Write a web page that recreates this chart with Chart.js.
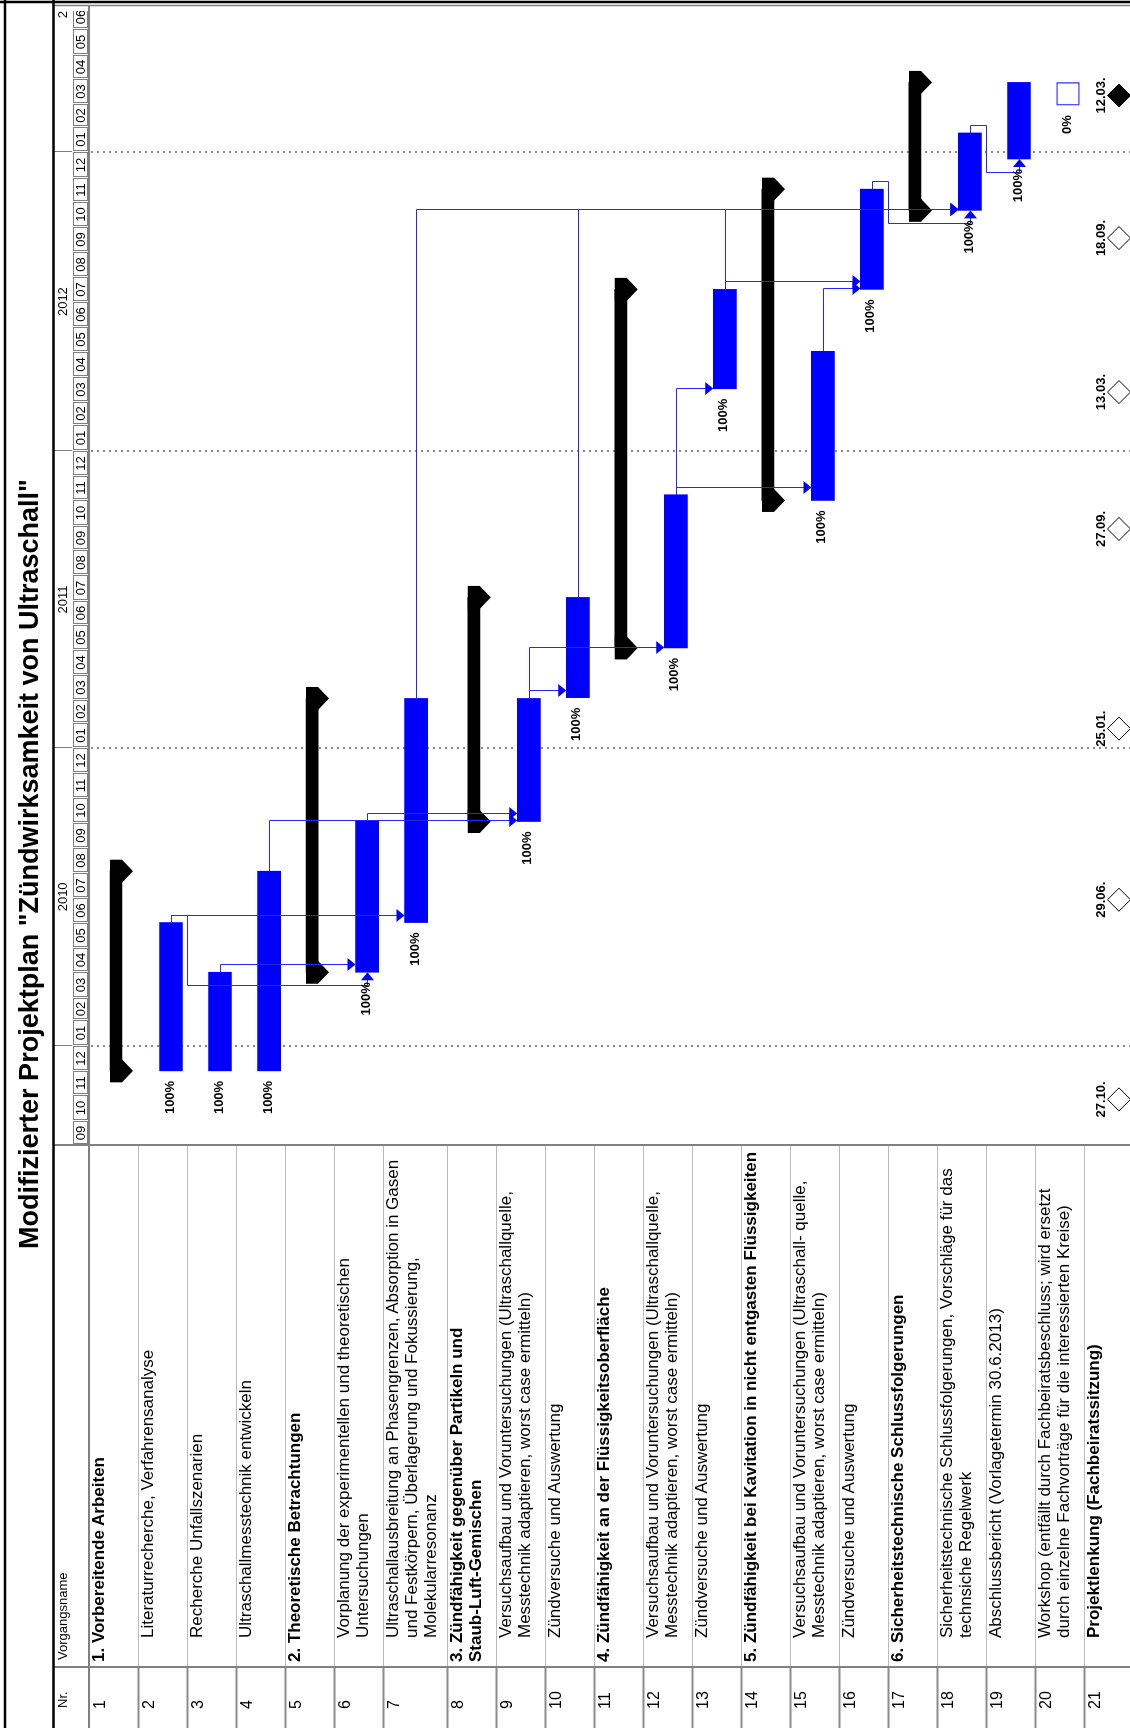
<!DOCTYPE html>
<html>
<head>
<meta charset="utf-8">
<title>Modifizierter Projektplan</title>
<script src="https://cdn.jsdelivr.net/npm/chart.js@4.4.1/dist/chart.umd.min.js"></script>
<style>
html, body { margin:0; padding:0; background:#fff; overflow:hidden; }
body { width:1130px; height:1728px; position:relative; }
#page { position:absolute; left:0; top:0; width:1728px; height:1133px;
  transform-origin:0 0; transform:translate(0px,1728px) rotate(-90deg);
  font-family:"Liberation Sans", Arial, sans-serif; color:#000; }
#gantt { position:absolute; left:0; top:0; }
#title { position:absolute; left:0; top:5px; width:1728px; height:48px; line-height:48px;
  text-align:center; font-weight:bold; font-size:27px; }
.head { position:absolute; font-size:13px; line-height:15px; white-space:pre; }
.num { position:absolute; font-size:16px; line-height:19px; white-space:pre; }
.name { position:absolute; font-size:17px; line-height:19px; white-space:pre; }
.bold { font-weight:bold; }
</style>
</head>
<body>
<div id="page">
  <canvas id="gantt" width="1728" height="1133"></canvas>
  <div id="title">Modifizierter Projektplan "Zündwirksamkeit von Ultraschall"</div>
  <div id="table"></div>
</div>
<script>
// Vorgaenge
var taskNames = [
  '1. Vorbereitende Arbeiten',
  'Literaturrecherche, Verfahrensanalyse',
  'Recherche Unfallszenarien',
  'Ultraschallmesstechnik entwickeln',
  '2. Theoretische Betrachtungen',
  'Vorplanung der experimentellen und theoretischen\nUntersuchungen',
  'Ultraschallausbreitung an Phasengrenzen, Absorption in Gasen\nund Festkörpern, Überlagerung und Fokussierung,\nMolekularresonanz',
  '3. Zündfähigkeit gegenüber Partikeln und\nStaub-Luft-Gemischen',
  'Versuchsaufbau und Voruntersuchungen (Ultraschallquelle,\nMesstechnik adaptieren, worst case ermitteln)',
  'Zündversuche und Auswertung',
  '4. Zündfähigkeit an der Flüssigkeitsoberfläche',
  'Versuchsaufbau und Voruntersuchungen (Ultraschallquelle,\nMesstechnik adaptieren, worst case ermitteln)',
  'Zündversuche und Auswertung',
  '5. Zündfähigkeit bei Kavitation in nicht entgasten Flüssigkeiten',
  'Versuchsaufbau und Voruntersuchungen (Ultraschall- quelle,\nMesstechnik adaptieren, worst case ermitteln)',
  'Zündversuche und Auswertung',
  '6. Sicherheitstechnische Schlussfolgerungen',
  'Sicherheitstechnische Schlussfolgerungen, Vorschläge für das\ntechnsiche Regelwerk',
  'Abschlussbericht (Vorlagetermin 30.6.2013)',
  'Workshop (entfällt durch Fachbeiratsbeschluss; wird ersetzt\ndurch einzelne Fachvorträge für die interessierten Kreise)',
  'Projektlenkung (Fachbeiratssitzung)'
];
var rowKind = ['summary','task','task','task','summary','task','task','summary','task','task',
  'summary','task','task','summary','task','task','summary','task','task','task','milestones'];

var startDates = ['2009-12-01','2009-12-01','2009-12-01','2009-12-01','2010-04-01','2010-04-01','2010-06-01',
  '2010-10-03','2010-10-03','2011-03-04','2011-05-04','2011-05-04','2012-03-17','2011-11-01','2011-11-01',
  '2012-07-17','2012-10-22','2012-10-22','2012-12-24','2013-02-28',null];
var endDates = ['2010-08-03','2010-06-01','2010-04-01','2010-08-03','2011-03-03','2010-10-04','2011-03-03',
  '2011-07-05','2011-03-03','2011-07-05','2012-07-17','2011-11-08','2012-07-17','2012-11-17','2012-05-02',
  '2012-11-17','2013-03-28','2013-01-25','2013-03-28','2013-03-28',null];
var pctDone = [null,100,100,100,null,100,100,null,100,100,null,100,100,null,100,100,null,100,100,0,null];

// Fachbeiratssitzungen (Zeile 21)
var milestoneDates = ['2009-10-27','2010-06-29','2011-01-25','2011-09-27','2012-03-13','2012-09-18','2013-03-12'];
var milestoneLabels = ['27.10.','29.06.','25.01.','27.09.','13.03.','18.09.','12.03.'];
var milestoneFilled = [false,false,false,false,false,false,true];

// Anordnungsbeziehungen (Nr. Vorgaenger -> Nr. Nachfolger)
var linkFrom = [2,2,3,4,6,7,9,9,10,12,12,13,13,15,16,18];
var linkTo   = [7,6,6,9,9,18,10,12,18,13,15,16,18,16,18,19];

// Zeitskala
var years = ['2009','2010','2011','2012','2013'];
var monthNames = ['01','02','03','04','05','06','07','08','09','10','11','12'];
var axisStart = '2009-09-01';
var axisStop = '2013-07-01';

var FONT = '"Liberation Sans", Arial, sans-serif';
var BLUE = '#0000ff';
var LINK = '#2626ff';

function toDays(d) {
  var t = (typeof d === 'string') ? Date.parse(d) : d.getTime();
  return (t - Date.parse(axisStart)) / 864e5;
}

// row slots, the three-line row is taller
var rowTop = [], rowSpan = [];
var acc = 0;
for (var i = 0; i < taskNames.length; i++) {
  rowTop.push(acc);
  var span = taskNames[i].split('\n').length > 2 ? 1.3 : 1;
  rowSpan.push(span);
  acc += span;
}
var rowsTotal = acc;

var taskData = [], summaryData = [], msData = [];
for (var i = 0; i < taskNames.length; i++) {
  if (rowKind[i] === 'task') {
    taskData.push({ x: [toDays(startDates[i]), toDays(endDates[i])], y: rowTop[i] + 33 / 49, row: i });
  } else if (rowKind[i] === 'summary') {
    summaryData.push({ x: [toDays(startDates[i]), toDays(endDates[i])], y: rowTop[i] + 27 / 49, row: i });
  } else {
    for (var k = 0; k < milestoneDates.length; k++) {
      msData.push({ x: toDays(milestoneDates[k]), y: rowTop[i] + 35 / 49, k: k });
    }
  }
}

function rowGeo(chart, i) {
  var xs = chart.scales.x, ys = chart.scales.y;
  var t = ys.getPixelForValue(rowTop[i]);
  return {
    s: xs.getPixelForValue(toDays(startDates[i])),
    e: xs.getPixelForValue(toDays(endDates[i])),
    top: t,
    c: t + 33,
    barTop: t + 21.5,
    bottom: ys.getPixelForValue(rowTop[i] + rowSpan[i])
  };
}

function px(v) { return Math.round(v) + 0.5; }

var ganttDecor = {
  id: 'ganttDecor',
  beforeDatasetsDraw: function (chart) {
    var ctx = chart.ctx, xs = chart.scales.x, ca = chart.chartArea;
    ctx.save();
    ctx.strokeStyle = '#8a8a8a';
    ctx.lineWidth = 2;
    ctx.setLineDash([2, 4]);
    for (var y = 1; y < years.length; y++) {
      var p = Math.round(xs.getPixelForValue(toDays(years[y] + '-01-01')));
      ctx.beginPath(); ctx.moveTo(p, ca.top + 2); ctx.lineTo(p, ca.bottom); ctx.stroke();
    }
    ctx.restore();
  },
  afterDatasetsDraw: function (chart) {
    var ctx = chart.ctx, xs = chart.scales.x, ys = chart.scales.y;
    ctx.save();

    // Sammelbalken-Enden
    ctx.fillStyle = '#000';
    for (var i = 0; i < taskNames.length; i++) {
      if (rowKind[i] !== 'summary') continue;
      var g = rowGeo(chart, i);
      var t = g.top + 21;
      [g.s, g.e].forEach(function (d) {
        ctx.beginPath();
        ctx.moveTo(d - 11.5, t); ctx.lineTo(d + 11.5, t); ctx.lineTo(d + 11.5, t + 12);
        ctx.lineTo(d, t + 23); ctx.lineTo(d - 11.5, t + 12); ctx.closePath();
        ctx.fill();
      });
    }

    // Verknuepfungslinien
    ctx.strokeStyle = LINK;
    ctx.fillStyle = BLUE;
    ctx.lineWidth = 1;
    for (var l = 0; l < linkFrom.length; l++) {
      var a = rowGeo(chart, linkFrom[l] - 1), b = rowGeo(chart, linkTo[l] - 1);
      ctx.beginPath();
      if (b.s < a.e - 8) {
        var x1 = px(a.e + 7), x2 = px(b.s - 14);
        ctx.moveTo(a.e, px(a.c)); ctx.lineTo(x1, px(a.c)); ctx.lineTo(x1, px(a.bottom));
        ctx.lineTo(x2, px(a.bottom)); ctx.lineTo(x2, px(b.c)); ctx.lineTo(b.s - 7, px(b.c));
        ctx.stroke();
        ctx.beginPath();
        ctx.moveTo(b.s - 8, b.c - 6); ctx.lineTo(b.s, b.c + 0.5); ctx.lineTo(b.s - 8, b.c + 7);
        ctx.closePath(); ctx.fill();
      } else {
        var xd = px(Math.max(b.s, a.e + 7));
        ctx.moveTo(a.e, px(a.c)); ctx.lineTo(xd, px(a.c)); ctx.lineTo(xd, b.barTop - 7);
        ctx.stroke();
        ctx.beginPath();
        ctx.moveTo(xd - 6.5, b.barTop - 8); ctx.lineTo(xd + 6.5, b.barTop - 8); ctx.lineTo(xd, b.barTop);
        ctx.closePath(); ctx.fill();
      }
    }

    // Fertigstellungsgrad
    ctx.fillStyle = '#000';
    ctx.font = 'bold 13px ' + FONT;
    ctx.textAlign = 'right';
    ctx.textBaseline = 'middle';
    for (var i = 0; i < taskNames.length; i++) {
      if (pctDone[i] === null) continue;
      var g = rowGeo(chart, i);
      ctx.fillText(pctDone[i] + '%', g.s - 10, g.c - 1);
    }

    // Meilenstein-Daten
    ctx.textAlign = 'center';
    ctx.textBaseline = 'alphabetic';
    var mRow = rowKind.indexOf('milestones');
    var my = ys.getPixelForValue(rowTop[mRow]) + 35;
    for (var k = 0; k < milestoneDates.length; k++) {
      ctx.fillText(milestoneLabels[k], xs.getPixelForValue(toDays(milestoneDates[k])), my - 14);
    }
    ctx.restore();
  },
  afterDraw: function (chart) {
    var ctx = chart.ctx, xs = chart.scales.x, ys = chart.scales.y, ca = chart.chartArea;
    ctx.save();

    // Zeitskala oben
    ctx.save();
    ctx.beginPath(); ctx.rect(ca.left, 54, ca.right - ca.left - 6, 36); ctx.clip();
    ctx.strokeStyle = '#808080';
    ctx.lineWidth = 1;
    ctx.fillStyle = '#000';
    ctx.font = '13px ' + FONT;
    ctx.textAlign = 'center';
    ctx.textBaseline = 'middle';
    var d = new Date(Date.parse(axisStart));
    while (toDays(d) < toDays(axisStop)) {
      var n = new Date(Date.UTC(d.getUTCFullYear(), d.getUTCMonth() + 1, 1));
      var p0 = Math.round(xs.getPixelForValue(toDays(d))), p1 = Math.round(xs.getPixelForValue(toDays(n)));
      ctx.strokeRect(p0 + 1.5, 73.5, p1 - p0 - 2, 14);
      ctx.fillText(monthNames[d.getUTCMonth()], (p0 + p1) / 2, 81);
      d = n;
    }
    for (var y = 0; y < years.length; y++) {
      var q0 = xs.getPixelForValue(toDays(years[y] + '-01-01'));
      var q1 = xs.getPixelForValue(toDays((+years[y] + 1) + '-01-01'));
      if (y > 0) { ctx.beginPath(); ctx.moveTo(px(q0), 54); ctx.lineTo(px(q0), 72); ctx.stroke(); }
      ctx.fillText(years[y], (q0 + q1) / 2, 63.5);
    }
    ctx.restore();

    // Tabellenraster
    for (var i = 1; i < taskNames.length; i++) {
      var ry = px(ys.getPixelForValue(rowTop[i]));
      ctx.strokeStyle = '#8c8c8c'; ctx.lineWidth = 2;
      ctx.beginPath(); ctx.moveTo(0, ry); ctx.lineTo(61, ry); ctx.stroke();
      ctx.strokeStyle = '#bcbcbc'; ctx.lineWidth = 1;
      ctx.beginPath(); ctx.moveTo(61, ry); ctx.lineTo(ca.left, ry); ctx.stroke();
    }
    ctx.strokeStyle = '#808080';
    ctx.lineWidth = 2;
    ctx.beginPath();
    ctx.moveTo(0, ca.top); ctx.lineTo(ca.right, ca.top);
    ctx.moveTo(61, 54); ctx.lineTo(61, ca.bottom);
    ctx.moveTo(ca.left, 54); ctx.lineTo(ca.left, ca.bottom);
    ctx.stroke();
    ctx.lineWidth = 1.5;
    ctx.beginPath(); ctx.moveTo(ca.right - 0.5, 54); ctx.lineTo(ca.right - 0.5, ca.bottom); ctx.stroke();

    // Rahmen
    ctx.strokeStyle = '#000';
    ctx.lineWidth = 2.5;
    ctx.beginPath();
    ctx.moveTo(0, 5); ctx.lineTo(1728, 5);
    ctx.moveTo(0, 53.5); ctx.lineTo(1728, 53.5);
    ctx.moveTo(1726, 0); ctx.lineTo(1726, ca.bottom);
    ctx.stroke();
    ctx.restore();
  }
};

Chart.defaults.font.family = FONT;

var chart = new Chart(document.getElementById('gantt'), {
  type: 'bar',
  data: {
    datasets: [
      {
        label: 'Vorgang',
        indexAxis: 'y',
        data: taskData,
        grouped: false,
        barThickness: 23,
        backgroundColor: function (c) { return c.raw && pctDone[c.raw.row] === 0 ? '#ffffff' : BLUE; },
        borderColor: function (c) { return c.raw && pctDone[c.raw.row] === 0 ? '#4a4aff' : BLUE; },
        borderWidth: function (c) { return c.raw && pctDone[c.raw.row] === 0 ? 1.5 : 0; },
        borderSkipped: false
      },
      {
        label: 'Sammelvorgang',
        indexAxis: 'y',
        data: summaryData,
        grouped: false,
        barThickness: 12,
        backgroundColor: '#000',
        borderWidth: 0
      },
      {
        label: 'Meilenstein',
        type: 'scatter',
        data: msData,
        pointStyle: 'rectRot',
        pointRadius: 11.5,
        pointHoverRadius: 11.5,
        borderWidth: 1,
        borderColor: '#000',
        backgroundColor: function (c) { return c.raw && milestoneFilled[c.raw.k] ? '#000' : '#fff'; }
      }
    ]
  },
  options: {
    responsive: false,
    animation: false,
    events: [],
    layout: { padding: { left: 583, right: 5, top: 89, bottom: 0 }, autoPadding: false },
    scales: {
      x: { type: 'linear', min: 0, max: toDays(axisStop), offset: false, display: false },
      y: { type: 'linear', min: 0, max: rowsTotal, reverse: true, offset: false, display: false }
    },
    plugins: { legend: { display: false }, tooltip: { enabled: false } }
  },
  plugins: [ganttDecor]
});

// Tabelle (Text)
var table = document.getElementById('table');
function addText(txt, left, topPx, cls) {
  var el = document.createElement('div');
  el.className = cls;
  el.style.left = left + 'px';
  el.style.top = topPx + 'px';
  el.textContent = txt;
  table.appendChild(el);
}
addText('Nr.', 20, 55, 'head');
addText('Vorgangsname', 68, 55, 'head');
for (var i = 0; i < taskNames.length; i++) {
  var rowY = Math.round(chart.scales.y.getPixelForValue(rowTop[i]));
  addText(String(i + 1), 19, rowY + 1, 'num');
  var bold = rowKind[i] !== 'task';
  addText(taskNames[i], rowKind[i] === 'summary' ? 66 : 90, rowY, 'name' + (bold ? ' bold' : ''));
}
</script>
</body>
</html>
